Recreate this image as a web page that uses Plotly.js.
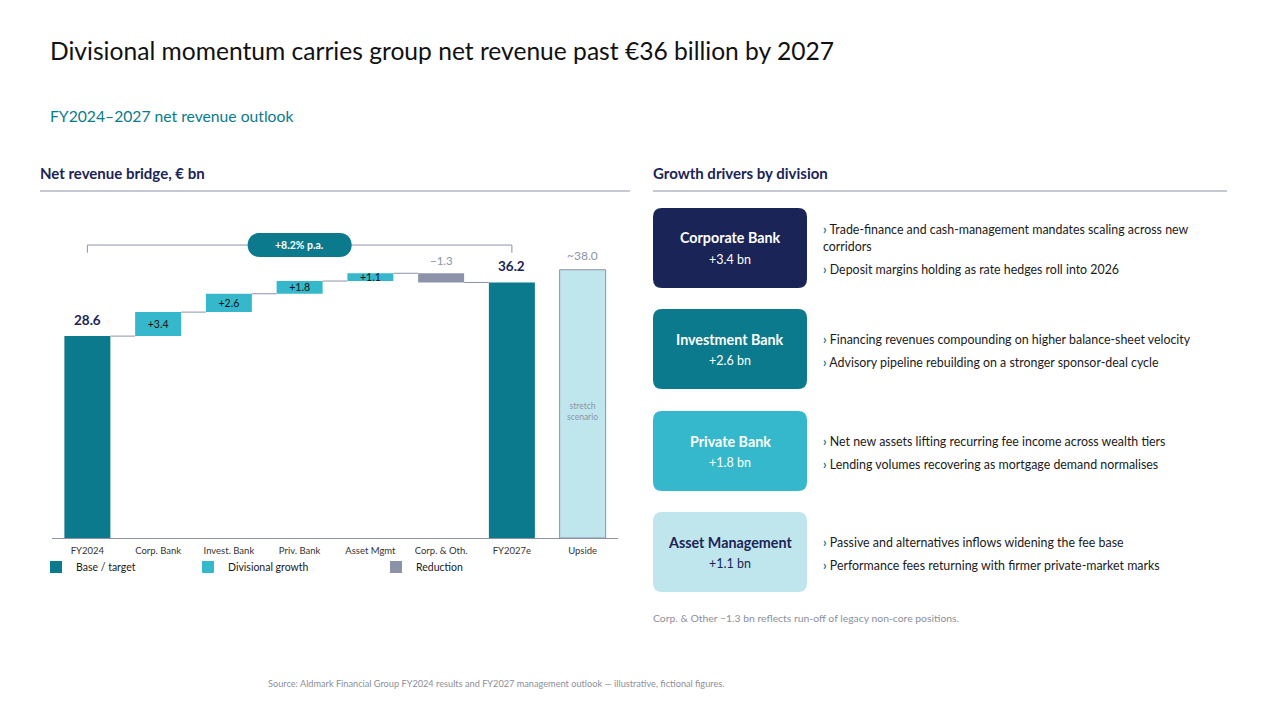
<!DOCTYPE html>
<html><head><meta charset="utf-8">
<script src="https://cdn.plot.ly/plotly-3.0.1.min.js"></script>
<style>html,body{margin:0;padding:0;background:#fff}#chart{width:1280px;height:720px}</style>
</head><body><div id="chart"></div>
<script>
// ---------- DATA ----------
const categories = ['FY2024','Corp. Bank','Invest. Bank','Priv. Bank','Asset Mgmt','Corp. & Oth.','FY2027e','Upside'];
const baseCats = ['FY2024','FY2027e'];
const baseValues = [28.6, 36.2];
const growthCats = ['Corp. Bank','Invest. Bank','Priv. Bank','Asset Mgmt'];
const growthValues = [3.4, 2.6, 1.8, 1.1];
const reductionCats = ['Corp. & Oth.'];
const reductionValues = [-1.3];
const upsideCats = ['Upside'];
const upsideValues = [38.0];
const cagrLabel = '+8.2% p.a.';
const legendNames = ['Base / target','Divisional growth','Reduction'];

const divisions = ['Corporate Bank','Investment Bank','Private Bank','Asset Management'];
const divisionValues = ['+3.4 bn','+2.6 bn','+1.8 bn','+1.1 bn'];
const divisionBullets = [
  [['Trade-finance and cash-management mandates scaling across new','corridors'],['Deposit margins holding as rate hedges roll into 2026']],
  [['Financing revenues compounding on higher balance-sheet velocity'],['Advisory pipeline rebuilding on a stronger sponsor-deal cycle']],
  [['Net new assets lifting recurring fee income across wealth tiers'],['Lending volumes recovering as mortgage demand normalises']],
  [['Passive and alternatives inflows widening the fee base'],['Performance fees returning with firmer private-market marks']]
];

// ---------- STYLE ----------
const FONT = 'Lato, "Noto Sans", "Open Sans", sans-serif';
const NAVY = '#1B2456', TEAL = '#0A7A8C', CYAN = '#35B8CB', PALE = '#C0E6ED', GREY = '#8C93A8';
const W = 1280, H = 720;
const X = px => px / W;
const Y = py => 1 - py / H;

// running totals for waterfall
let running = baseValues[0];
const growthBases = growthValues.map(v => { const b = running; running += v; return b; });
const reductionBases = reductionValues.map(v => { const b = running + v; running += v; return b; });
const fmt = v => (v >= 0 ? '+' : '\u2212') + Math.abs(v).toFixed(1);

const BW = 0.65;
const traces = [
  {type:'bar', name:legendNames[0], x:baseCats, y:baseValues, width:BW, marker:{color:TEAL}, legend:'legend', hoverinfo:'skip'},
  {type:'bar', name:legendNames[1], x:growthCats, y:growthValues, base:growthBases, width:BW, marker:{color:CYAN},
   text:growthValues.map(fmt), textposition:'inside', insidetextanchor:'middle', constraintext:'none',
   textfont:{family:FONT, size:10.5, color:'#111'}, legend:'legend2', hoverinfo:'skip'},
  {type:'bar', name:legendNames[2], x:reductionCats, y:reductionValues.map(v=>-v), base:reductionBases, width:BW,
   marker:{color:GREY}, legend:'legend3', hoverinfo:'skip'},
  {type:'bar', name:'Upside', x:upsideCats, y:upsideValues, width:BW, showlegend:false,
   marker:{color:PALE, line:{color:GREY, width:1}}, hoverinfo:'skip'}
];

// connectors
const shapes = [];
const levels = [baseValues[0]];
growthValues.forEach((v,i)=>levels.push(growthBases[i]+v));
reductionValues.forEach((v,i)=>levels.push(reductionBases[i]));
levels.forEach((lv,i)=>{
  shapes.push({type:'line', xref:'x', yref:'y', x0:i+BW/2, x1:i+1-BW/2, y0:lv, y1:lv, line:{color:GREY, width:1}});
});

// bracket
const bTop = 41.5, bEnd = 40.4;
const iEnd = categories.indexOf('FY2027e');
shapes.push({type:'line', xref:'x', yref:'y', x0:0, x1:0, y0:bEnd, y1:bTop, line:{color:GREY, width:1}});
shapes.push({type:'line', xref:'x', yref:'y', x0:0, x1:iEnd, y0:bTop, y1:bTop, line:{color:GREY, width:1}});
shapes.push({type:'line', xref:'x', yref:'y', x0:iEnd, x1:iEnd, y0:bEnd, y1:bTop, line:{color:GREY, width:1}});
shapes.push({type:'path', xref:'x', yref:'y', xsizemode:'pixel', ysizemode:'pixel', xanchor:3, yanchor:bTop,
  path:'M-40,12 L40,12 C56,12 56,-12 40,-12 L-40,-12 C-56,-12 -56,12 -40,12 Z', fillcolor:TEAL, line:{width:0}});

// section rules
shapes.push({type:'line', xref:'paper', yref:'paper', x0:X(40), x1:X(630), y0:Y(191), y1:Y(191), line:{color:GREY, width:1}});
shapes.push({type:'line', xref:'paper', yref:'paper', x0:X(653), x1:X(1227), y0:Y(191), y1:Y(191), line:{color:GREY, width:1}});

function roundRect(x0,y0,x1,y1,r){
  const p = (x,y)=>X(x)+','+Y(y);
  return 'M'+p(x0+r,y0)+' L'+p(x1-r,y0)+' Q'+p(x1,y0)+' '+p(x1,y0+r)+' L'+p(x1,y1-r)+' Q'+p(x1,y1)+' '+p(x1-r,y1)+
    ' L'+p(x0+r,y1)+' Q'+p(x0,y1)+' '+p(x0,y1-r)+' L'+p(x0,y0+r)+' Q'+p(x0,y0)+' '+p(x0+r,y0)+' Z';
}

const annotations = [];
const txt = (text, x, y, size, color, opts={}) => annotations.push(Object.assign({
  text, xref:'paper', yref:'paper', x:X(x), y:Y(y), xanchor:'left', yanchor:'middle', showarrow:false,
  font:{family:FONT, size, color}}, opts));

txt('Divisional momentum carries group net revenue past €36 billion by 2027', 48, 51, 24.6, '#111');
txt('FY2024–2027 net revenue outlook', 48, 116, 15.7, TEAL);
txt('<b>Net revenue bridge, € bn</b>', 38, 173, 15, NAVY);
txt('<b>Growth drivers by division</b>', 651, 173, 15, NAVY);
txt('Corp. & Other \u22121.3 bn reflects run-off of legacy non-core positions.', 651, 618, 10.4, '#8C8F99');
txt('Source: Aldmark Financial Group FY2024 results and FY2027 management outlook — illustrative, fictional figures.', 496, 683, 9.2, '#8C8F99', {xanchor:'center'});

// value labels on chart
const dataLbl = (text, x, y, size, color, yshift) => annotations.push({text, xref:'x', yref:'y', x, y, yanchor:'bottom',
  yshift, showarrow:false, font:{family:FONT, size, color}});
dataLbl('<b>'+baseValues[0].toFixed(1)+'</b>', baseCats[0], baseValues[0], 13.5, NAVY, 6);
dataLbl('<b>'+baseValues[1].toFixed(1)+'</b>', baseCats[1], baseValues[1], 13.5, NAVY, 6);
dataLbl('~'+upsideValues[0].toFixed(1), upsideCats[0], upsideValues[0], 12, GREY, 5);
dataLbl(fmt(reductionValues[0]), reductionCats[0], reductionBases[0]-reductionValues[0], 11.5, GREY, 4);
annotations.push({text:'stretch<br>scenario', xref:'x', yref:'y', x:upsideCats[0], y:upsideValues[0]*0.47, showarrow:false,
  font:{family:FONT, size:8.5, color:GREY}});
annotations.push({text:'<b>'+cagrLabel+'</b>', xref:'x', yref:'y', x:3, y:bTop, showarrow:false,
  font:{family:FONT, size:10.5, color:'#fff'}});

// division cards
const cardTops = [208, 309, 411, 512];
const cardFill = [NAVY, TEAL, CYAN, PALE];
const cardText = ['#fff','#fff','#fff', NAVY];
divisions.forEach((d,i)=>{
  const t = cardTops[i], b = t + 80;
  shapes.push({type:'path', xref:'paper', yref:'paper', path:roundRect(653,t,807,b,9), fillcolor:cardFill[i], line:{width:0}});
  txt('<b>'+d+'</b>', 730, t+30, 14.3, cardText[i], {xanchor:'center'});
  txt(divisionValues[i], 730, t+51, 12.5, cardText[i], {xanchor:'center'});
  let yy = t + 22;
  if (divisionBullets[i].length && divisionBullets[i][0].length === 1) yy = t + 30;
  divisionBullets[i].forEach((lines,k)=>{
    lines.forEach((ln,j)=>{
      const pre = j===0 ? '<span style="color:'+TEAL+'"><b>›</b></span> ' : '';
      txt(pre+ln, 821, yy, 12.4, '#1a1a1a');
      yy += 16;
    });
    yy += 7;
  });
});

const legBase = {orientation:'h', yanchor:'middle', xanchor:'left', y:Y(567), bgcolor:'rgba(0,0,0,0)',
  font:{family:FONT, size:10.5, color:'#1a1a1a'}, itemwidth:30, borderwidth:0};

const layout = {
  width:W, height:H, margin:{l:0,r:0,t:0,b:0}, paper_bgcolor:'#fff', plot_bgcolor:'#fff',
  barmode:'overlay', showlegend:true, font:{family:FONT},
  xaxis:{domain:[X(52),X(618)], type:'category', categoryorder:'array', categoryarray:categories, range:[-0.5,7.5],
    showline:true, linecolor:GREY, linewidth:1, ticks:'', showgrid:false, zeroline:false, fixedrange:true,
    tickfont:{family:FONT, size:9.5, color:'#333'}, ticklabelstandoff:4},
  yaxis:{domain:[Y(538), Y(227.4)], range:[0,44], visible:false, fixedrange:true},
  legend:Object.assign({}, legBase, {x:X(36)}),
  legend2:Object.assign({}, legBase, {x:X(188)}),
  legend3:Object.assign({}, legBase, {x:X(376)}),
  shapes, annotations
};

Plotly.newPlot('chart', traces, layout, {displayModeBar:false, staticPlot:true});
</script></body></html>
